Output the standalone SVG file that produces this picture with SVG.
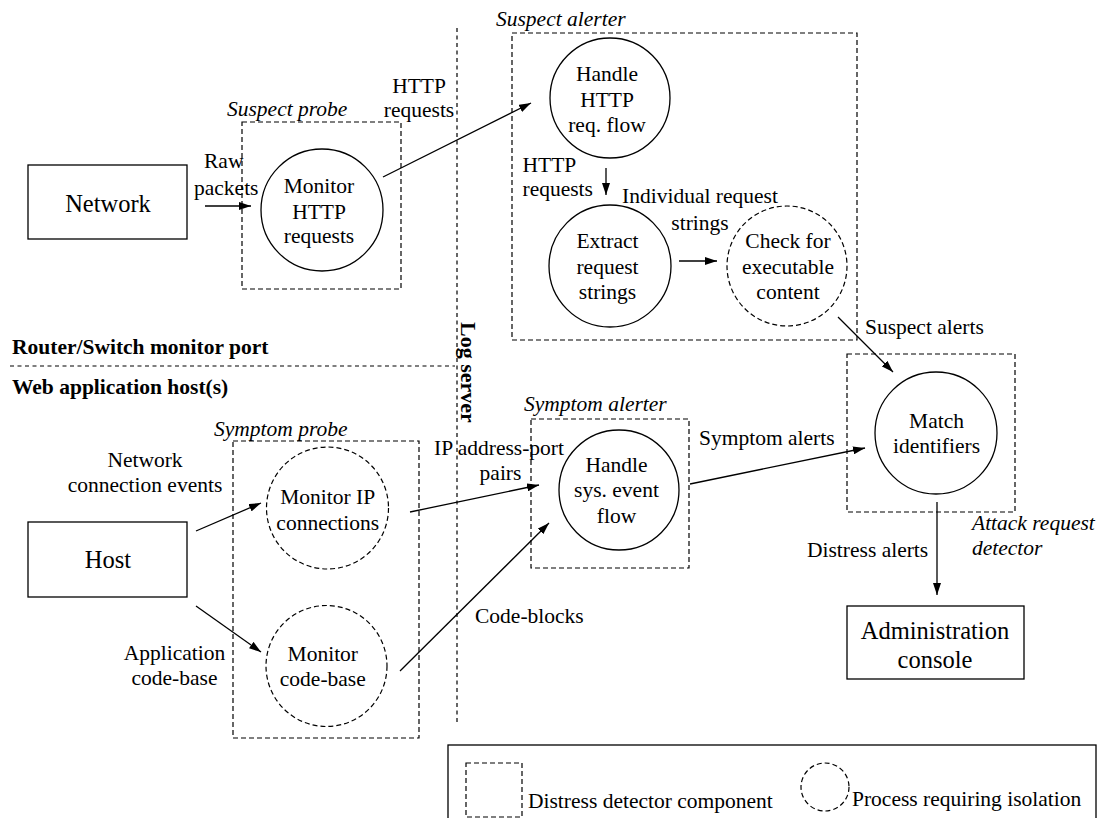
<svg xmlns="http://www.w3.org/2000/svg" width="1106" height="818" viewBox="0 0 1106 818">
  <defs>
    <marker id="arrow" viewBox="0 0 12 8" refX="12" refY="4" markerWidth="12" markerHeight="8" markerUnits="userSpaceOnUse" orient="auto">
      <path d="M0,0 L12,4 L0,8 Z" fill="#000"/>
    </marker>
    <style>
      text { font-family: "Liberation Serif", "Times New Roman", serif; font-size: 21.5px; fill: #000; }
      .big { font-size: 24.5px; }
      .c { text-anchor: middle; }
      .it { font-style: italic; }
      .bold { font-weight: bold; }
      .solid { fill: #fff; stroke: #000; stroke-width: 1.3; }
      .proc { fill: none; stroke: #000; stroke-width: 1.3; }
      .iso { fill: none; stroke: #000; stroke-width: 1.2; stroke-dasharray: 5 3; }
      .comp { fill: none; stroke: #000; stroke-width: 1.2; stroke-dasharray: 5 3; }
      .sep { fill: none; stroke: #000; stroke-width: 1.2; stroke-dasharray: 4 3.5; }
      .flow { fill: none; stroke: #000; stroke-width: 1.3; marker-end: url(#arrow); }
      .plain { fill: none; stroke: #000; stroke-width: 1.3; }
    </style>
  </defs>

  <rect width="1106" height="818" fill="#fff"/>

  <!-- zone separators -->
  <g id="zones">
    <line class="sep" x1="10" y1="366" x2="455" y2="366"/>
    <line class="sep" x1="457" y1="28" x2="457" y2="724"/>
    <text class="bold" x="12" y="354">Router/Switch monitor port</text>
    <text class="bold" x="12" y="394">Web application host(s)</text>
    <text class="bold" transform="translate(461,322) rotate(90)" style="font-size:22px">Log server</text>
  </g>

  <!-- distress detector components -->
  <g id="suspect-probe">
    <rect class="comp" x="242" y="122" width="159" height="167"/>
    <text class="it" x="227" y="116">Suspect probe</text>
  </g>
  <g id="suspect-alerter">
    <rect class="comp" x="512" y="33" width="345" height="307"/>
    <text class="it" x="496" y="26">Suspect alerter</text>
  </g>
  <g id="symptom-probe">
    <rect class="comp" x="233" y="441" width="186" height="297"/>
    <text class="it" x="214" y="436">Symptom probe</text>
  </g>
  <g id="symptom-alerter">
    <rect class="comp" x="531" y="419" width="158" height="149"/>
    <text class="it" x="524" y="411">Symptom alerter</text>
  </g>
  <g id="attack-request-detector">
    <rect class="comp" x="847" y="354" width="168" height="158"/>
    <text class="it" x="972" y="530">Attack request</text>
    <text class="it" x="972" y="555">detector</text>
  </g>

  <!-- external entities -->
  <g id="network">
    <rect class="solid" x="28" y="165" width="159" height="74"/>
    <text class="big c" x="108" y="212">Network</text>
  </g>
  <g id="host">
    <rect class="solid" x="28" y="522" width="159" height="75"/>
    <text class="big c" x="108" y="568">Host</text>
  </g>
  <g id="admin-console">
    <rect class="solid" x="847" y="606" width="177" height="73"/>
    <text class="big c" x="935" y="639">Administration</text>
    <text class="big c" x="935" y="668">console</text>
  </g>

  <!-- processes -->
  <g id="monitor-http">
    <circle class="proc" cx="322" cy="210" r="61"/>
    <text class="c" x="319" y="193">Monitor</text>
    <text class="c" x="319" y="219">HTTP</text>
    <text class="c" x="319" y="243">requests</text>
  </g>
  <g id="handle-http">
    <circle class="proc" cx="610" cy="98" r="60"/>
    <text class="c" x="607" y="81">Handle</text>
    <text class="c" x="607" y="107">HTTP</text>
    <text class="c" x="607" y="132">req. flow</text>
  </g>
  <g id="extract-strings">
    <circle class="proc" cx="610" cy="266" r="61"/>
    <text class="c" x="607.5" y="248">Extract</text>
    <text class="c" x="607.5" y="274">request</text>
    <text class="c" x="607.5" y="299">strings</text>
  </g>
  <g id="check-exec">
    <circle class="iso" cx="787" cy="266" r="60"/>
    <text class="c" x="788" y="248">Check for</text>
    <text class="c" x="788" y="274">executable</text>
    <text class="c" x="788" y="299">content</text>
  </g>
  <g id="match-ids">
    <circle class="proc" cx="936" cy="433" r="61"/>
    <text class="c" x="936.5" y="428">Match</text>
    <text class="c" x="936.5" y="453">identifiers</text>
  </g>
  <g id="handle-sys">
    <circle class="proc" cx="619" cy="490" r="60"/>
    <text class="c" x="616.5" y="472">Handle</text>
    <text class="c" x="616.5" y="497">sys. event</text>
    <text class="c" x="616.5" y="523">flow</text>
  </g>
  <g id="monitor-ip">
    <circle class="iso" cx="327.5" cy="508" r="61"/>
    <text class="c" x="327.7" y="504">Monitor IP</text>
    <text class="c" x="327.7" y="530">connections</text>
  </g>
  <g id="monitor-code">
    <circle class="iso" cx="326.5" cy="666" r="60.5"/>
    <text class="c" x="322.8" y="661">Monitor</text>
    <text class="c" x="322.8" y="686">code-base</text>
  </g>

  <!-- data flows -->
  <g id="connectors">
    <line class="flow" x1="205" y1="206" x2="251" y2="206"/>
    <line class="flow" x1="383" y1="177" x2="531" y2="103"/>
    <line class="flow" x1="606" y1="168" x2="606" y2="195"/>
    <line class="flow" x1="679" y1="261" x2="717" y2="261"/>
    <line class="flow" x1="838" y1="317" x2="893" y2="372"/>
    <line class="flow" x1="937" y1="502" x2="937" y2="595"/>
    <line class="flow" x1="690" y1="484" x2="865" y2="448"/>
    <line class="flow" x1="410" y1="512" x2="539" y2="485"/>
    <line class="flow" x1="400" y1="671" x2="549" y2="523"/>
    <line class="flow" x1="196" y1="531" x2="261" y2="503"/>
    <line class="flow" x1="196" y1="606" x2="261" y2="652"/>
  </g>

  <!-- flow labels -->
  <g id="flow-labels">
    <text x="204" y="168">Raw</text>
    <text x="194" y="195">packets</text>
    <text class="c" x="419" y="93">HTTP</text>
    <text class="c" x="419" y="117">requests</text>
    <text x="522.5" y="172">HTTP</text>
    <text x="522.5" y="196">requests</text>
    <text class="c" x="700" y="203">Individual request</text>
    <text class="c" x="700" y="230">strings</text>
    <text x="865" y="334">Suspect alerts</text>
    <text x="699" y="445">Symptom alerts</text>
    <text x="807" y="557">Distress alerts</text>
    <text x="434" y="455">IP address-port</text>
    <text class="c" x="500.5" y="480">pairs</text>
    <text x="475" y="623">Code-blocks</text>
    <text class="c" x="145" y="467">Network</text>
    <text class="c" x="145" y="492">connection events</text>
    <text class="c" x="174.5" y="660">Application</text>
    <text class="c" x="174.5" y="685">code-base</text>
  </g>

  <!-- key -->
  <g id="legend">
    <rect x="448" y="745" width="648" height="90" fill="none" stroke="#000" stroke-width="1.3"/>
    <rect class="comp" x="466" y="763" width="56" height="54"/>
    <text x="528" y="808">Distress detector component</text>
    <ellipse class="iso" cx="825" cy="787" rx="24" ry="24"/>
    <text x="852" y="806">Process requiring isolation</text>
  </g>
</svg>
